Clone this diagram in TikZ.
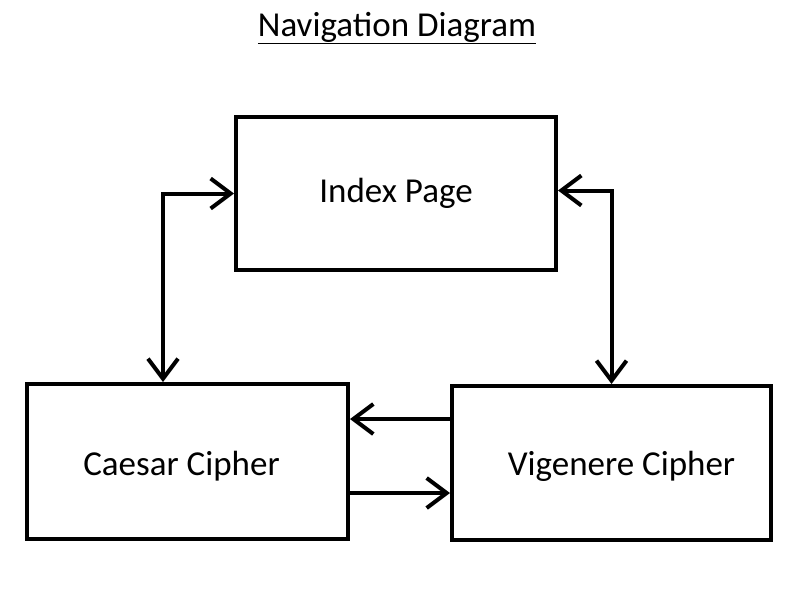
\documentclass[tikz,border=0pt]{standalone}
\usepackage{fontspec}
\setmainfont{Carlito}
\usetikzlibrary{arrows.meta, positioning}
\tikzstyle{box} = [rectangle, draw=black, line width=4pt, font=\fontsize{35}{42}\selectfont]
\tikzstyle{arrow} = [-{Straight Barb[length=20pt, width=30pt, line width=4pt]}, line width=4pt]
\tikzstyle{dblarrow} = [{Straight Barb[length=20pt, width=30pt, line width=4pt]}-{Straight Barb[length=20pt, width=30pt, line width=4pt]}, line width=4pt]

\begin{document}
\begin{tikzpicture}[x=1pt, y=-1pt]
    \useasboundingbox (0,0) rectangle (800,600);
    % Title
    \node[font=\fontsize{35}{42}\selectfont] (title) at (397,28) {\underline{Navigation Diagram}};

    % Pages
    \node[box, minimum width=320pt, minimum height=153pt] (index) at (396,193.5) {Index Page};
    \node[box, minimum width=321pt, minimum height=155pt] (caesar) at (187.5,461.5) {\raisebox{-5pt}[\height][\depth]{Caesar Cipher\hspace*{12pt}}};
    \node[box, minimum width=319pt, minimum height=154pt] (vigenere) at (611.5,463) {\raisebox{-3pt}[\height][\depth]{\hspace*{20pt}Vigenere Cipher}};

    % Links
    \draw[dblarrow] ([xshift=138pt]caesar.north west) |- (index.west);
    \draw[dblarrow] ([yshift=3pt]index.east) -| (vigenere.north);
    \draw[arrow] (vigenere.west |- 0,419) -- (caesar.east |- 0,419);
    \draw[arrow] (caesar.east |- 0,493) -- (vigenere.west |- 0,493);
\end{tikzpicture}
\end{document}
